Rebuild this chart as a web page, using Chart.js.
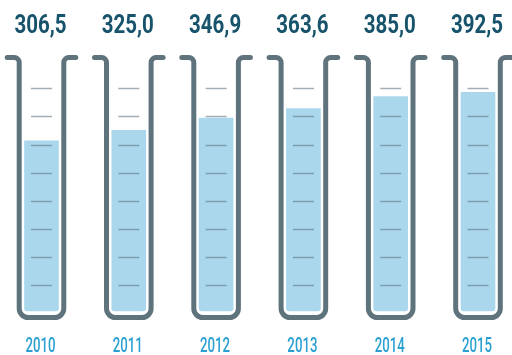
<!DOCTYPE html>
<html>
<head>
<meta charset="utf-8">
<script src="https://cdn.jsdelivr.net/npm/chart.js@4"></script>
<style>
    body { margin: 0; background: #ffffff; }
    canvas { display: block; }
</style>
</head>
<body>
<canvas id="myChart" width="512" height="355"></canvas>
<script>
let years = ["2010", "2011", "2012", "2013", "2014", "2015"];
let values = [306.5, 325.0, 346.9, 363.6, 385.0, 392.5];
// graduation marks on every tube, in the same units as the values
let gradations = [50, 100, 150, 200, 250, 300, 350, 400];

const wallColor = '#5f737d';
const fillColor = '#aad7eb';

function formatValue(v) {
    return v.toFixed(1).replace('.', ',');
}

// draws condensed text by squeezing the canvas horizontally
function squeezedText(ctx, text, x, y, font, color, squeeze) {
    ctx.save();
    ctx.font = font;
    ctx.fillStyle = color;
    ctx.textAlign = 'center';
    ctx.textBaseline = 'alphabetic';
    ctx.translate(x, y);
    ctx.scale(squeeze, 1);
    ctx.fillText(text, 0, 0);
    ctx.restore();
}

const tubesPlugin = {
    id: 'tubes',
    afterDatasetsDraw(chart) {
        const ctx = chart.ctx;
        const area = chart.chartArea;
        const xScale = chart.scales.x;
        const yScale = chart.scales.y;
        const bars = chart.getDatasetMeta(0).data;

        const top = area.top - 2.5;
        const bottom = area.bottom + 4;
        const half = 22.3;
        const lip = 12;

        for (let i = 0; i < years.length; i++) {
            const cx = xScale.getPixelForValue(i);
            const lx = cx - half;
            const rx = cx + half;
            const barTop = bars[i].y;

            // graduation marks, darker where they sit in the liquid
            ctx.save();
            ctx.lineWidth = 1.5;
            for (let g of gradations) {
                const gy = Math.round(yScale.getPixelForValue(g)) + 0.5;
                ctx.strokeStyle = gy > barTop ? '#7f9dad' : '#a3afb5';
                ctx.beginPath();
                ctx.moveTo(cx - 10.5, gy);
                ctx.lineTo(cx + 10.5, gy);
                ctx.stroke();
            }
            ctx.restore();

            // tube outline with lips bent outwards
            ctx.save();
            ctx.strokeStyle = wallColor;
            ctx.lineWidth = 5;
            ctx.lineCap = 'round';
            ctx.lineJoin = 'round';
            ctx.beginPath();
            ctx.moveTo(lx - lip, top);
            ctx.arcTo(lx, top, lx, bottom, 5);
            ctx.arcTo(lx, bottom, rx, bottom, 9);
            ctx.arcTo(rx, bottom, rx, top, 9);
            ctx.arcTo(rx, top, rx + lip, top, 5);
            ctx.lineTo(rx + lip, top);
            ctx.stroke();
            ctx.restore();

            squeezedText(ctx, formatValue(values[i]), cx - 1, 33,
                'bold 25px Roboto, "Liberation Sans", sans-serif', '#17536b', 0.82);
            squeezedText(ctx, years[i], cx - 1, 352,
                '500 21px Roboto, "Liberation Sans", sans-serif', '#2aa0d2', 0.63);
        }
    }
};

window.addEventListener("DOMContentLoaded", () => {
    const ctx = document.getElementById('myChart');

    new Chart(ctx, {
        type: 'bar',
        data: {
            labels: years,
            datasets: [{
                data: values,
                backgroundColor: fillColor,
                borderWidth: 0,
                borderSkipped: false,
                borderRadius: { topLeft: 0, topRight: 0, bottomLeft: 3, bottomRight: 3 },
                barThickness: 34,
                base: 4.5,
                clip: false
            }]
        },
        options: {
            responsive: false,
            animation: false,
            events: [],
            layout: {
                padding: { left: 41.5, right: 34, top: 60, bottom: 41.5 }
            },
            plugins: {
                legend: { display: false },
                tooltip: { enabled: false }
            },
            scales: {
                x: {
                    display: false,
                    offset: false
                },
                y: {
                    display: false,
                    min: 0,
                    max: 450
                }
            }
        },
        plugins: [tubesPlugin]
    });
});
</script>
</body>
</html>
